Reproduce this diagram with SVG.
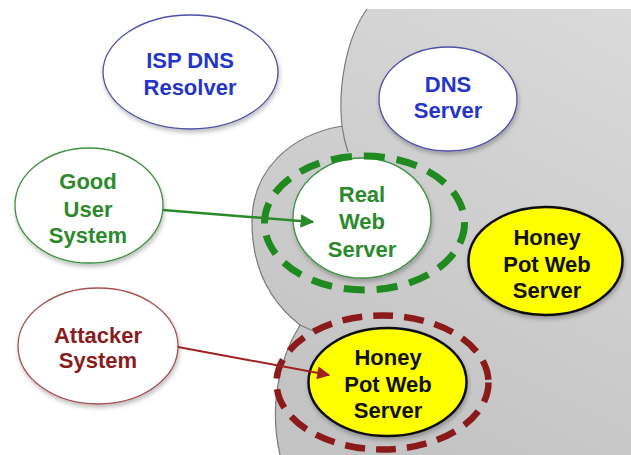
<svg xmlns="http://www.w3.org/2000/svg" width="631" height="455" viewBox="0 0 631 455">
<defs>
<linearGradient id="gr" gradientUnits="userSpaceOnUse" x1="631" y1="9" x2="400" y2="455">
<stop offset="0" stop-color="#dadada"/>
<stop offset="1" stop-color="#c3c3c3"/>
</linearGradient>
<filter id="sh" x="-20%" y="-20%" width="140%" height="150%">
<feDropShadow dx="1" dy="3" stdDeviation="2" flood-color="#000" flood-opacity="0.25"/>
</filter>
<marker id="ag" viewBox="0 0 10 10" refX="9" refY="5" markerWidth="5.5" markerHeight="5.5" orient="auto" markerUnits="strokeWidth">
<path d="M0,0 L10,5 L0,10 Z" fill="#2a8a2a"/>
</marker>
<marker id="ar" viewBox="0 0 10 10" refX="9" refY="5" markerWidth="7" markerHeight="6.5" orient="auto" markerUnits="strokeWidth">
<path d="M0,0 L10,5 L0,10 Z" fill="#a02020"/>
</marker>
</defs>
<style>
text{font-family:"Liberation Sans",Arial,sans-serif;font-weight:bold;font-size:22px;text-anchor:middle}
.blue{fill:#2535c8}
.green{fill:#2c8a2d}
.red{fill:#8b1c1c}
.black{fill:#111}
.wb{fill:#fff;stroke:#5050a8;stroke-width:1.3}
.wg{fill:#fff;stroke:#3d9140;stroke-width:1.3}
.wr{fill:#fff;stroke:#a85050;stroke-width:1.3}
.yl{fill:#ffff00;stroke:#111;stroke-width:2.5}
.edge{fill:none;stroke:#7a7a7a;stroke-width:1.2}
</style>

<g id="zone">
<path d="M367 9 L631 9 L631 455 L280 455 A110 142 0 0 1 300 325 C268 300 252 265 252 222 C252 170 290 135 342 126 C338 90 345 40 367 9 Z" fill="url(#gr)"/>
<path class="edge" d="M280 455 A110 142 0 0 1 300 325 C268 300 252 265 252 222 C252 170 290 135 342 126 C338 90 345 40 367 9"/>
<path class="edge" d="M342 126 Q344 140 348 152"/>
<path class="edge" d="M300 325 L318 333"/>
</g>

<g id="isp-dns-resolver">
<ellipse class="wb" cx="190.5" cy="72" rx="87.5" ry="57" filter="url(#sh)"/>
<text class="blue" x="190" y="68">ISP DNS</text>
<text class="blue" x="190" y="95">Resolver</text>
</g>

<g id="dns-server">
<ellipse class="wb" cx="448" cy="99" rx="69" ry="52" filter="url(#sh)"/>
<text class="blue" x="448" y="92">DNS</text>
<text class="blue" x="448" y="118">Server</text>
</g>

<g id="good-user-system">
<ellipse class="wg" cx="89" cy="205.5" rx="74" ry="57.5" filter="url(#sh)"/>
<text class="green" x="88" y="189">Good</text>
<text class="green" x="88" y="217">User</text>
<text class="green" x="88" y="243">System</text>
</g>

<g id="attacker-system">
<ellipse class="wr" cx="98" cy="346" rx="80" ry="58" filter="url(#sh)"/>
<text class="red" x="98" y="343">Attacker</text>
<text class="red" x="98" y="368">System</text>
</g>

<g id="real-web-server">
<ellipse class="wg" cx="362" cy="218" rx="69" ry="60" filter="url(#sh)"/>
<ellipse cx="364.5" cy="223" rx="100" ry="67" fill="none" stroke="#1f8a1f" stroke-width="7" stroke-dasharray="21 12"/>
<text class="green" x="362" y="202">Real</text>
<text class="green" x="362" y="229">Web</text>
<text class="green" x="362" y="257">Server</text>
</g>

<g id="honey-pot-web-server-1">
<ellipse class="yl" cx="545.5" cy="261" rx="77" ry="54" filter="url(#sh)"/>
<text class="black" x="547" y="245">Honey</text>
<text class="black" x="547" y="272">Pot Web</text>
<text class="black" x="547" y="298">Server</text>
</g>

<g id="honey-pot-web-server-2">
<ellipse class="yl" cx="387.5" cy="382" rx="79" ry="54" filter="url(#sh)"/>
<ellipse cx="382.5" cy="382.5" rx="106" ry="67" fill="none" stroke="#8b1a1a" stroke-width="6.5" stroke-dasharray="20 11"/>
<text class="black" x="388" y="365">Honey</text>
<text class="black" x="388" y="392">Pot Web</text>
<text class="black" x="388" y="418">Server</text>
</g>

<g id="connectors">
<line x1="163" y1="210" x2="313" y2="222" stroke="#2a8a2a" stroke-width="2.5" marker-end="url(#ag)"/>
<line x1="178" y1="347" x2="329" y2="375" stroke="#a02020" stroke-width="2" marker-end="url(#ar)"/>
</g>
</svg>
